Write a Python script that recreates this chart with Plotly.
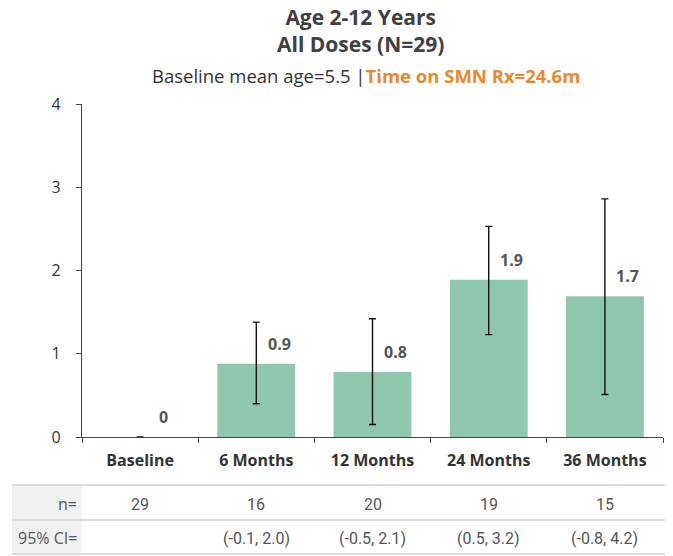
import plotly.graph_objects as go

categories = ["Baseline", "6 Months", "12 Months", "24 Months", "36 Months"]
values = [0, 0.9, 0.8, 1.9, 1.7]
bar_values = [0, 0.88, 0.78, 1.89, 1.69]
err_high = [None, 1.38, 1.42, 2.53, 2.86]
err_low = [None, 0.40, 0.15, 1.23, 0.51]
n_values = ["29", "16", "20", "19", "15"]
ci_labels = ["", "(-0.1, 2.0)", "(-0.5, 2.1)", "(0.5, 3.2)", "(-0.8, 4.2)"]
y_ticks = [0, 1, 2, 3, 4]

W, H = 673, 556
# plot area in screenshot pixels: x 82..663, y 104..437
L = 82
T = 104
R = W - 663
B = H - 437
PW = W - L - R
PH = H - T - B


def px_x(px):
    return (px - L) / PW


def px_y(py):
    return (H - B - py) / PH


plus = [None if h is None else h - v for h, v in zip(err_high, bar_values)]
minus = [None if l is None else v - l for l, v in zip(err_low, bar_values)]

fig = go.Figure()
fig.add_trace(go.Bar(
    x=categories, y=bar_values,
    marker=dict(color="#8fc6ae", line=dict(width=0)),
    error_y=dict(type="data", symmetric=False, array=plus, arrayminus=minus,
                 color="#111111", thickness=1.4, width=3.5),
    hoverinfo="skip",
))

# value labels
for c, v, bv in zip(categories, values, bar_values):
    fig.add_annotation(x=c, y=bv, xref="x", yref="y", text=f"<b>{v:g}</b>",
                       showarrow=False, xshift=23, yshift=7, yanchor="bottom",
                       font=dict(family="Open Sans", size=16, color="#555555"))

# titles
fig.add_annotation(x=px_x(360), y=px_y(30.5), xref="paper", yref="paper",
                   text="<b>Age 2-12 Years</b><br><b>All Doses (N=29)</b>",
                   showarrow=False, yanchor="middle",
                   font=dict(family="Open Sans", size=21, color="#404040"))
fig.add_annotation(x=px_x(366), y=px_y(75), xref="paper", yref="paper",
                   text="Baseline mean age=5.5 |<span style='color:#e8892b'><b>Time on SMN Rx=24.6m</b></span>",
                   showarrow=False, yanchor="middle",
                   font=dict(family="Open Sans", size=18.5, color="#333333"))

# table
fig.add_shape(type="rect", xref="paper", yref="paper",
              x0=px_x(12), x1=px_x(81), y0=px_y(485), y1=px_y(554),
              fillcolor="#f0f0f0", line=dict(width=0), layer="below")
for ly in (485, 520, 554):
    fig.add_shape(type="line", xref="paper", yref="paper",
                  x0=px_x(12), x1=px_x(665), y0=px_y(ly), y1=px_y(ly),
                  line=dict(color="#dcdcdc", width=2))
fig.add_annotation(x=px_x(79), y=px_y(504), xref="paper", yref="paper",
                   text="n=", showarrow=False, xanchor="right", yanchor="middle",
                   font=dict(family="Open Sans", size=16, color="#555555"))
fig.add_annotation(x=px_x(79), y=px_y(538), xref="paper", yref="paper",
                   text="95% CI=", showarrow=False, xanchor="right", yanchor="middle",
                   font=dict(family="Open Sans", size=16, color="#555555"))
for c, nv, ci in zip(categories, n_values, ci_labels):
    fig.add_annotation(x=c, y=px_y(504), xref="x", yref="paper", text=nv,
                       showarrow=False, yanchor="middle",
                       font=dict(family="Roboto", size=16, color="#555555"))
    if ci:
        fig.add_annotation(x=c, y=px_y(538), xref="x", yref="paper", text=ci,
                           showarrow=False, yanchor="middle",
                           font=dict(family="Roboto", size=16, color="#555555"))

fig.update_layout(
    width=W, height=H,
    margin=dict(l=L, r=R, t=T, b=B, pad=0),
    plot_bgcolor="white", paper_bgcolor="white",
    showlegend=False, bargap=0.33,
    xaxis=dict(showline=True, linecolor="#444444", linewidth=1.2,
               ticks="outside", tickson="boundaries", ticklen=5,
               tickcolor="#444444", ticklabelstandoff=9,
               tickfont=dict(family="Open Sans", size=16, color="#333333"),
               tickprefix="<b>", ticksuffix="</b>", showgrid=False),
    yaxis=dict(range=[0, 4], tickvals=y_ticks, showline=True,
               linecolor="#444444", linewidth=1.2, ticks="outside", ticklen=5,
               tickcolor="#444444", showgrid=False, zeroline=False,
               ticklabelstandoff=12,
               tickfont=dict(family="Open Sans", size=16, color="#333333"),
               tickprefix="<b>", ticksuffix="</b>"),
)

fig.write_html("out.html", config={"displayModeBar": False},
               post_script="document.body.style.margin='0';document.body.style.overflow='hidden';")
